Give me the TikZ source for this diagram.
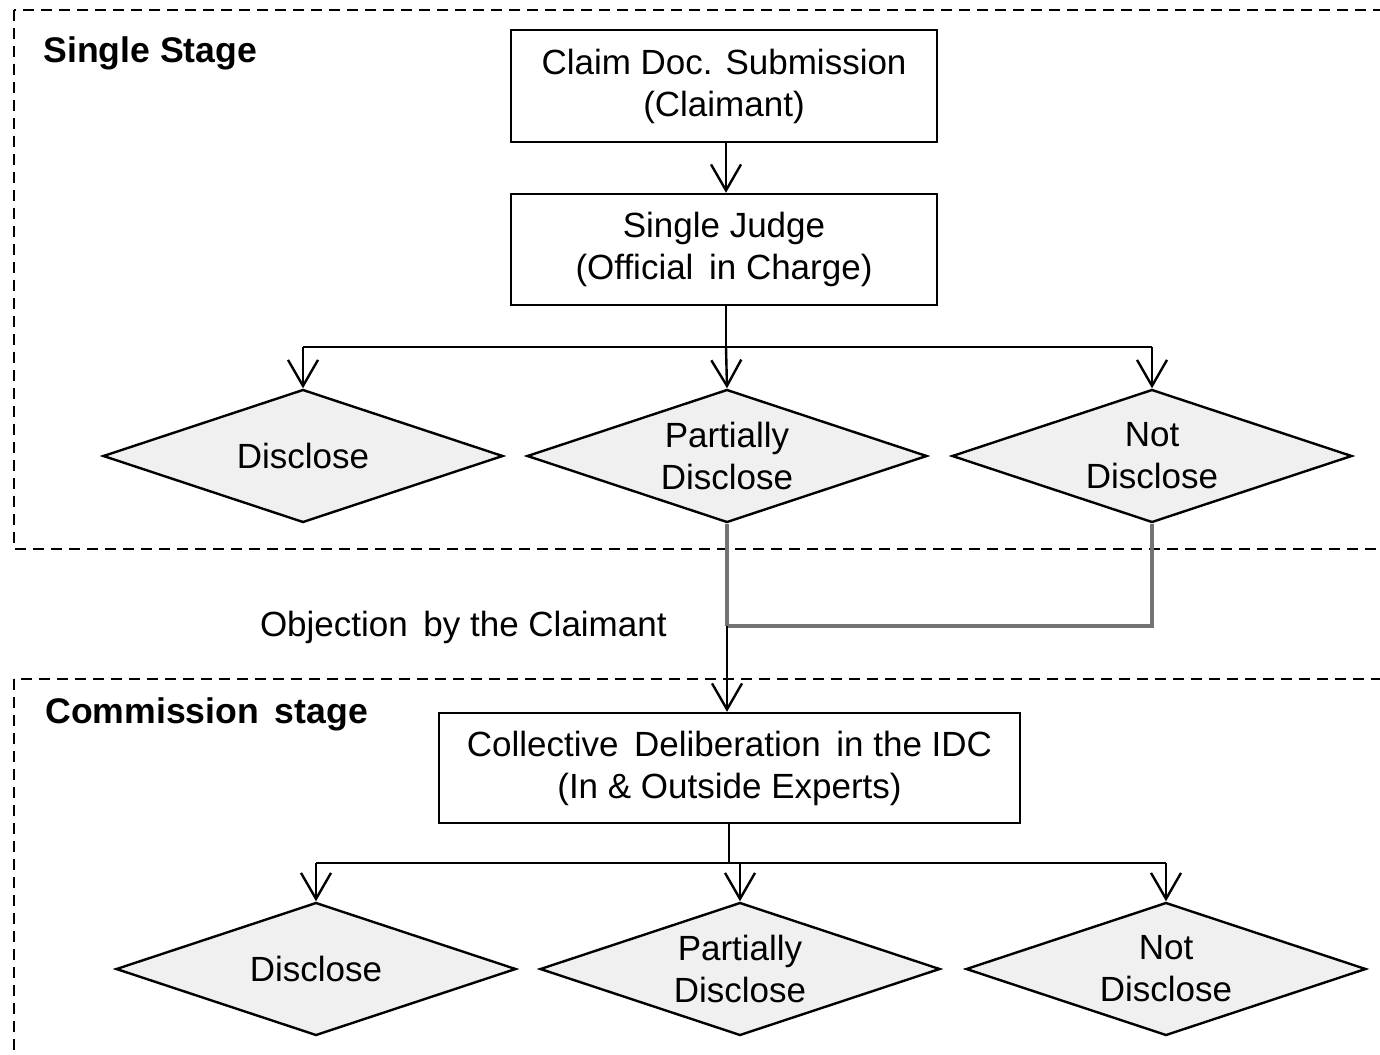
\documentclass[tikz,border=0pt]{standalone}
\usepackage{fontspec}
\setmainfont{Liberation Sans}
\usetikzlibrary{arrows.meta,shapes.geometric}
\begin{document}
\begin{tikzpicture}[x=0.5pt,y=-0.5pt,
  every node/.style={font=\fontsize{17.5}{21}\selectfont},
  procbox/.style={draw,line width=1.2pt,rectangle,inner sep=0pt,align=center},
  dia/.style={draw,line width=1.2pt,diamond,fill=black!6,inner sep=0pt,minimum width=200pt,minimum height=66.5pt},
  dtext/.style={align=center,inner sep=0pt},
  stagebox/.style={draw,line width=1.3pt,dash pattern=on 5.5pt off 3.5pt},
  stagelabel/.style={inner sep=0pt,font=\fontsize{17.8}{21}\selectfont\bfseries},
  arr/.style={line width=1.2pt,-{Straight Barb[length=13pt,width=15pt,line width=1.2pt]}},
  mainline/.style={line width=1.2pt},
  grayline/.style={line width=1.7pt,draw=black!55}
]
\useasboundingbox (0,0) rectangle (1380,1054);
\clip (0,0) rectangle (1380,1054);

% stage frames
\draw[stagebox] (14,10) rectangle (1420,549);
\draw[stagebox] (14,679) rectangle (1420,1100);
\node[stagelabel,anchor=base west] (lab1) at (43,63) {Single Stage};
\node[stagelabel,anchor=base west] (lab2) at (45,723) {Commission\, stage};

% single stage
\node[procbox,minimum width=213pt,minimum height=56pt] (b1) at (724,86) {Claim Doc. Submission\\(Claimant)};
\node[procbox,minimum width=213pt,minimum height=55.5pt] (b2) at (724,249.5) {Single Judge\\(Official\, in Charge)};

\node[dia] (d1) at (303,456) {};
\node[dia] (d2) at (727,456) {};
\node[dia] (d3) at (1152,456) {};
\node[dtext] (t1) at (d1.center) {Disclose};
\node[dtext] (t2) at (d2.center) {Partially\\Disclose};
\node[dtext] (t3) at (d3.center) {Not\\Disclose};

\coordinate (s1) at (726,347);
\draw[arr] (726,142) -- (b2.north -| 726,0);
\draw[mainline] (b2.south -| s1) -- (s1);
\draw[mainline] (d1.north |- s1) -- (d3.north |- s1);
\draw[arr] (d1.north |- s1) -- (d1.north);
\draw[arr] (s1) -- (d2.north);
\draw[arr] (d3.north |- s1) -- (d3.north);

% objection
\node[procbox,minimum width=290.5pt,minimum height=55pt] (b3) at (729.5,768) {Collective\, Deliberation\, in the IDC\\(In \& Outside Experts)};
\coordinate (j) at (727,626);
\draw[grayline] (d2.south) -- (j);
\draw[grayline] (d3.south) |- (j);
\draw[arr] (j) -- (j |- b3.north);
\node[inner sep=0pt,anchor=base east] (obj) at (667,636) {Objection\, by the Claimant};

% commission stage
\node[dia] (e1) at (316,969) {};
\node[dia] (e2) at (740,969) {};
\node[dia] (e3) at (1166,969) {};
\node[dtext] (u1) at (e1.center) {Disclose};
\node[dtext] (u2) at (e2.center) {Partially\\Disclose};
\node[dtext] (u3) at (e3.center) {Not\\Disclose};

\coordinate (s2) at (729,863);
\draw[mainline] (b3.south -| s2) -- (s2);
\draw[mainline] (e1.north |- s2) -- (e3.north |- s2);
\draw[arr] (e1.north |- s2) -- (e1.north);
\draw[arr] (e2.north |- s2) -- (e2.north);
\draw[arr] (e3.north |- s2) -- (e3.north);
\end{tikzpicture}
\end{document}
